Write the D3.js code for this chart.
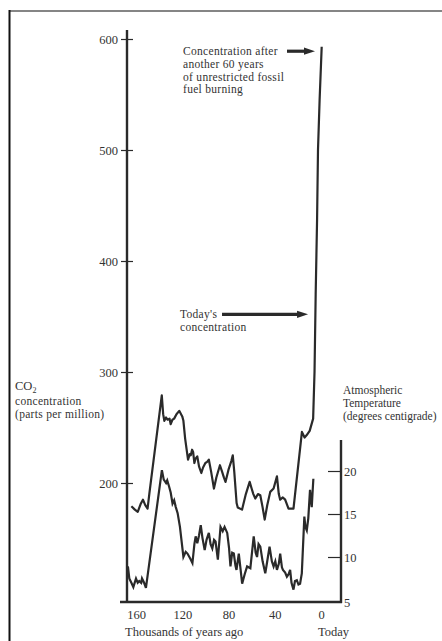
<!DOCTYPE html>
<html><head><meta charset="utf-8">
<script src="https://cdn.jsdelivr.net/npm/d3@7"></script>
<style>
html,body{margin:0;padding:0;background:#fff;}
svg{display:block;}
text{font-family:"Liberation Serif","Times New Roman",serif;fill:#333;}
</style></head>
<body>
<script>
// ---- data ----
const co2Years = [164,161,158.5,156,154,152,150,148.5,137.7,136.5,135.5,134,132.7,131,130,128.5,127,125,122.6,120,119,117.5,115,113.5,112.6,111.5,110.6,109.5,108.5,107,105.5,103.5,102,100,98.5,97,95,92.6,90.5,87.4,85.5,84,82.6,80,77.5,76.3,75,73,72,68.3,65,61.7,60,58.5,56.8,54.5,52.5,50.5,48.7,46.5,43.9,41,38.1,36.5,35.3,33,31,28.1,23.8,16.5,14.2,12.5,9.8,6.8,5.6,4.6,3.4,2.6,1.2,-0.6];
const co2Values = [179,176,174,181,185,180,177,190,279,262,256,259,257,258,253,257,258,262,265,260,256,240,221,226,225,230,228,218,222,224,215,209,214,218,219,221,210,195,205,216,210,205,201,212,220,225,210,182,178,176,190,201,195,190,186,190,189,178,167,180,192,195,206,190,185,187,185,177,177,246,241,243,247,258,300,370,437,500,545,593];
const tempYears = [167,165.8,164,162.3,160,158.5,157.2,155.5,154.8,153,151.4,137.6,136,134,133,131.4,130,128.4,127,125.6,124,122,119,117,115.5,113,111.2,109.5,108.4,107,105.5,104,102.5,100.6,99,97,95.5,94,92.5,91.2,89.2,86.9,85,83.4,81.1,79.5,78.3,76.8,75.4,74,73.1,71.1,69.5,68.2,66,63.9,61.1,58.2,56.5,55.3,54,52.5,50.5,48.2,46.5,44.5,42.5,41,39.5,38.1,36.5,35.3,33.8,32.9,31,29.5,28,26.7,25.5,23.8,22.5,20.9,19.5,18.1,16.6,14.4,13.5,12.3,11,9.5,8.6,8,7.3,6.6];
const tempValues = [8.9,7.5,7.0,6.5,7.5,7.0,7.2,7.0,7.5,7.0,6.4,20.1,19.0,18.6,18.9,18.2,17.5,16.2,16.6,15.8,15.1,13.5,10.0,10.6,10.4,9.8,9.3,11.5,12.4,11.6,12.5,13.7,12.2,10.8,12.0,12.8,11.5,11.0,12.0,11.8,9.7,13.5,13.0,13.5,12.8,11.0,8.9,10.5,10.4,9.0,8.5,10.4,8.5,6.9,8.0,8.9,8.7,12.4,10.5,10.0,11.5,11.2,9.5,8.1,9.5,11.2,9.5,8.9,9.5,8.5,9.2,10.4,8.8,8.5,8.2,7.7,8.0,8.5,7.0,6.2,7.2,7.3,6.8,6.9,8.1,14.7,13.5,13.1,14.5,17.8,16.5,15.8,17.5,19.1];
const xTicks = [160,120,80,40,0];
const co2Ticks = [200,300,400,500,600];
const tempTicks = [5,10,15,20];
const noteFuture = ["Concentration after","another 60 years","of unrestricted fossil","fuel burning"];
const noteToday = ["Today's","concentration"];
const futurePpm = 589, todayPpm = 352;
const futureArrowYears = [29.4, 5.2];
const todayArrowYears = [85.6, 11.2];

// ---- layout ----
const W = 442, H = 641;
const svg = d3.select("body").append("svg").attr("width", W).attr("height", H);
const x = d3.scaleLinear().domain([160, 0]).range([136, 321]);
const y = d3.scaleLinear().domain([200, 600]).range([483, 39]);
const yT = d3.scaleLinear().domain([5, 20]).range([600, 471]);
const ink = "#2a2a2a";

// frame
svg.append("line").attr("x1", 9).attr("x2", W).attr("y1", 11).attr("y2", 11).attr("stroke", "#858585").attr("stroke-width", 2);
svg.append("line").attr("x1", 9.5).attr("x2", 9.5).attr("y1", 10).attr("y2", H).attr("stroke", "#111").attr("stroke-width", 2);

// axes lines
const axX0 = 127, axBottom = 602, axRight = 341;
svg.append("line").attr("x1", axX0).attr("x2", axX0).attr("y1", 30).attr("y2", axBottom + 1).attr("stroke", ink).attr("stroke-width", 2.4);
svg.append("line").attr("x1", 120).attr("x2", axRight + 1).attr("y1", axBottom).attr("y2", axBottom).attr("stroke", ink).attr("stroke-width", 2.4);
svg.append("line").attr("x1", axRight).attr("x2", axRight).attr("y1", 440).attr("y2", axBottom + 1).attr("stroke", ink).attr("stroke-width", 2.4);

// left axis (ticks crossing)
const gL = svg.append("g").attr("transform", `translate(${axX0},0)`)
  .call(d3.axisLeft(y).tickValues(co2Ticks).tickSize(6).tickPadding(3));
gL.select(".domain").remove();
gL.selectAll(".tick line").attr("x1", 6).attr("x2", -6).attr("stroke", ink).attr("stroke-width", 1.2);
gL.selectAll(".tick text").attr("font-size", "12.5px").attr("fill", "#333").style("font-family", "Liberation Serif, serif").attr("x", -9);

// right axis (ticks inside, labels outside)
const gR = svg.append("g").attr("transform", `translate(${axRight},0)`)
  .call(d3.axisRight(yT).tickValues(tempTicks).tickSize(0).tickPadding(3));
gR.select(".domain").remove();
gR.selectAll(".tick line").attr("x1", -13).attr("x2", 0).attr("stroke", ink).attr("stroke-width", 1.2);
gR.selectAll(".tick").filter(d => d === 5).select("line").remove();
gR.selectAll(".tick text").attr("font-size", "12.5px").attr("fill", "#333").style("font-family", "Liberation Serif, serif").attr("x", 3);
gR.selectAll(".tick").filter(d => d === 5).select("text").attr("dy", "0.55em");

// bottom axis labels
const gB = svg.append("g").attr("transform", `translate(0,${axBottom})`)
  .call(d3.axisBottom(x).tickValues(xTicks).tickSize(0).tickPadding(8));
gB.select(".domain").remove();
gB.selectAll(".tick text").attr("font-size", "12.5px").attr("fill", "#333").style("font-family", "Liberation Serif, serif");

// lines
const co2Data = co2Years.map((d, i) => [d, co2Values[i]]);
const tempData = tempYears.map((d, i) => [d, tempValues[i]]);
svg.append("path").datum(co2Data)
  .attr("d", d3.line().x(d => x(d[0])).y(d => y(d[1])))
  .attr("fill", "none").attr("stroke", ink).attr("stroke-width", 2.2).attr("stroke-linejoin", "round");
svg.append("path").datum(tempData)
  .attr("d", d3.line().x(d => x(d[0])).y(d => yT(d[1])))
  .attr("fill", "none").attr("stroke", ink).attr("stroke-width", 2.2).attr("stroke-linejoin", "miter");

// annotations
function textBlock(lines, x0, y0, lh, size, ls) {
  const t = svg.append("text").attr("font-size", size).style("letter-spacing", ls || "0px");
  lines.forEach((s, i) => t.append("tspan").attr("x", x0).attr("y", y0 + i * lh).text(s));
  return t;
}
textBlock(noteFuture, 183, 55, 12.8, "11.5px", "0.3px");
textBlock(noteToday, 180, 318, 12.8, "11.5px", "0.3px");

function arrow(x1, x2, yy) {
  svg.append("line").attr("x1", x1).attr("x2", x2 - 9).attr("y1", yy).attr("y2", yy).attr("stroke", ink).attr("stroke-width", 3.2);
  svg.append("path").attr("d", `M${x2 - 11},${yy - 3.6}L${x2},${yy}L${x2 - 11},${yy + 3.6}Z`).attr("fill", ink);
}
arrow(x(futureArrowYears[0]), x(futureArrowYears[1]), y(futurePpm));
arrow(x(todayArrowYears[0]), x(todayArrowYears[1]), y(todayPpm));

// axis titles
const co2t = svg.append("text").attr("font-size", "12.5px").attr("x", 15).attr("y", 390);
co2t.append("tspan").text("CO");
co2t.append("tspan").attr("font-size", "8px").attr("dy", 2.5).text("2");
textBlock(["concentration", "(parts per million)"], 15, 405, 12.8, "11.5px", "0.3px");
textBlock(["Atmospheric", "Temperature", "(degrees centigrade)"], 343, 394, 12.8, "11.5px", "0px");

svg.append("text").attr("font-size", "12.5px").attr("x", 125).attr("y", 636).text("Thousands of years ago");
svg.append("text").attr("font-size", "12.5px").attr("x", 318).attr("y", 636).text("Today");
</script>
</body></html>
